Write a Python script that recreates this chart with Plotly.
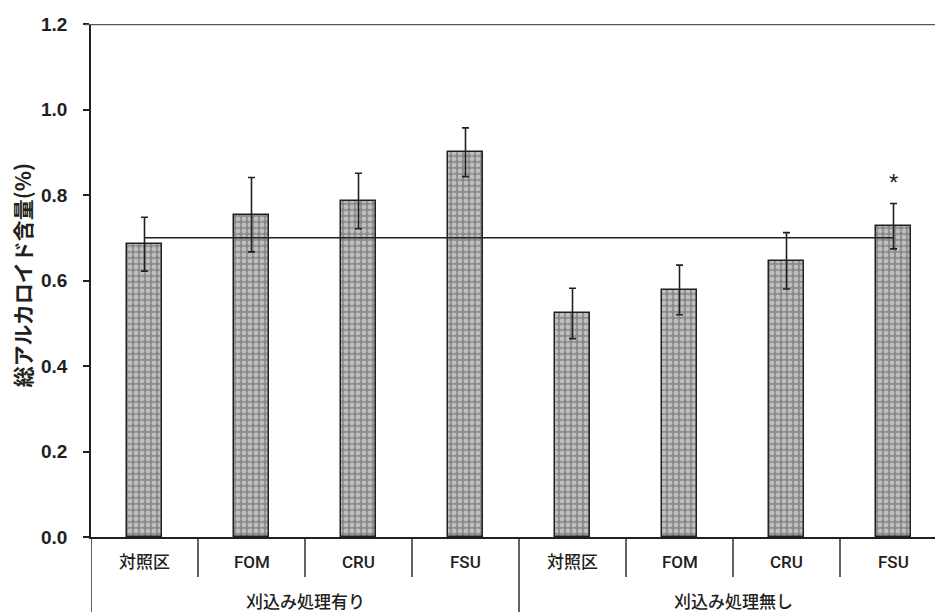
import plotly.graph_objects as go

# Treatment categories (lower row) and their mowing groups (upper row)
categories = ["対照区", "FOM", "CRU", "FSU", "対照区", "FOM", "CRU", "FSU"]
groups = ["刈込み処理有り", "刈込み処理無し"]
group_size = 4

# Total alkaloid content (%) and standard errors
alkaloid = [0.685, 0.754, 0.786, 0.900, 0.523, 0.578, 0.646, 0.727]
std_err = [0.063, 0.087, 0.065, 0.057, 0.059, 0.058, 0.066, 0.053]

# Reference level drawn across the bars and significance mark
ref_level = 0.70
sig_marks = ["", "", "", "", "", "", "", "*"]

y_ticks = [0.0, 0.2, 0.4, 0.6, 0.8, 1.0, 1.2]

INK = "#231f20"
positions = list(range(len(categories)))

fig = go.Figure()

fig.add_trace(go.Bar(
    x=positions,
    y=alkaloid,
    width=0.32,
    marker=dict(
        color="#9a9a9a",
        line=dict(color=INK, width=1.5),
        pattern=dict(shape=".", fgcolor="#f2f2f2", bgcolor="#8a8a8a",
                     size=6, solidity=0.5, fillmode="overlay"),
    ),
    error_y=dict(type="data", array=std_err, visible=True,
                 color=INK, thickness=1.6, width=3.5),
    showlegend=False,
))

fig.add_trace(go.Scatter(
    x=[positions[0], positions[-1]],
    y=[ref_level, ref_level],
    mode="lines",
    line=dict(color=INK, width=1.3),
    showlegend=False,
    hoverinfo="skip",
))

# Significance markers above the error bars
for p, v, e, m in zip(positions, alkaloid, std_err, sig_marks):
    if m:
        fig.add_annotation(x=p, y=v + e, text=m, showarrow=False,
                           yanchor="bottom", yshift=6,
                           font=dict(family="Liberation Sans", size=24, color=INK))

# Category labels below the axis
for p, c in zip(positions, categories):
    fig.add_annotation(x=p, y=0, xref="x", yref="paper", text=c, showarrow=False,
                       yanchor="middle", yshift=-25,
                       font=dict(family="Roboto, Noto Sans CJK JP",
                                 size=17, color=INK, weight=500))

# Group labels centred under each block of categories
for gi, g in enumerate(groups):
    centre = gi * group_size + (group_size - 1) / 2
    fig.add_annotation(x=centre, y=0, xref="x", yref="paper", text=g, showarrow=False,
                       yanchor="middle", yshift=-63,
                       font=dict(family="Noto Sans CJK JP", size=17, color=INK, weight=500))

plot_h = 612 - 24 - 75
short_sep = -40 / plot_h
long_sep = -75 / plot_h

# Separators between categories (short) and between groups (long)
for k in range(len(categories) + 1):
    xb = k - 0.5
    long_line = (k % group_size == 0)
    fig.add_shape(type="line", xref="x", yref="paper",
                  x0=xb, x1=xb, y0=0, y1=long_sep if long_line else short_sep,
                  line=dict(color=INK, width=1.4))

# Top frame line at the axis maximum
fig.add_shape(type="line", xref="paper", yref="y",
              x0=-6 / 844, x1=1, y0=y_ticks[-1], y1=y_ticks[-1],
              line=dict(color="#58534e", width=2.5))

fig.add_annotation(
    xref="paper", yref="paper", x=(22 - 91) / 844, y=0.51,
    text="総アルカロイド含量(%)", textangle=-90, showarrow=False,
    xanchor="center", yanchor="middle",
    font=dict(family="Noto Sans CJK JP", size=21, color=INK, weight="bold"),
)

fig.update_layout(
    width=935, height=612,
    margin=dict(l=91, r=0, t=24, b=75),
    plot_bgcolor="white", paper_bgcolor="white",
    bargap=0,
)

fig.update_xaxes(
    range=[-0.5, -0.5 + 844 / 107],
    showticklabels=False, ticks="", showgrid=False, zeroline=False,
    showline=True, linecolor=INK, linewidth=1.5,
)

fig.update_yaxes(
    range=[y_ticks[0], y_ticks[-1]],
    tickvals=y_ticks, tickformat=".1f",
    ticks="outside", ticklen=6, tickwidth=1.5, tickcolor=INK,
    ticklabelstandoff=12,
    tickfont=dict(family="Liberation Sans", size=19, color=INK, weight="bold"),
    showgrid=False, zeroline=False,
    showline=True, linecolor=INK, linewidth=1.5,
)

fig.write_html("out.html")
